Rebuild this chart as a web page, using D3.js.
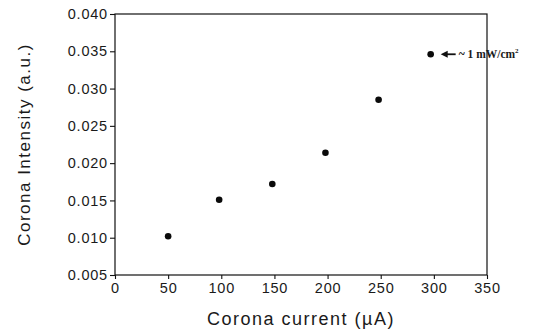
<!DOCTYPE html>
<html>
<head>
<meta charset="utf-8">
<script src="https://cdn.jsdelivr.net/npm/d3@7"></script>
<style>
  body { margin: 0; background: #fff; }
  svg text { font-family: "Liberation Sans", Arial, sans-serif; fill: #1a1a1a; }
</style>
</head>
<body>
<div id="chart-area"></div>
<script>
let width = 542;
let height = 332;

// data
let currents = [50, 98, 148, 198, 248, 297];
let intensities = [0.0102, 0.0151, 0.0172, 0.0214, 0.0285, 0.0346];
let xTicks = [0, 50, 100, 150, 200, 250, 300, 350];
let yTicks = [0.005, 0.010, 0.015, 0.020, 0.025, 0.030, 0.035, 0.040];

let margin = { left: 115, right: 55, top: 14, bottom: 57 };

let svg = d3.select("#chart-area")
	.append("svg")
	.attr("width", width)
	.attr("height", height);

let x = d3.scaleLinear()
	.domain([0, 350])
	.range([margin.left, width - margin.right]);

let y = d3.scaleLinear()
	.domain([0.005, 0.040])
	.range([height - margin.bottom, margin.top]);

// frame
svg.append("rect")
	.attr("x", x(0))
	.attr("y", y(0.040))
	.attr("width", x(350) - x(0))
	.attr("height", y(0.005) - y(0.040))
	.attr("fill", "none")
	.attr("stroke", "#111")
	.attr("stroke-width", 1.2);

let xAxis = d3.axisBottom(x)
	.tickValues(xTicks)
	.tickSize(4)
	.tickPadding(4)
	.tickFormat(d3.format("d"));

let yAxis = d3.axisLeft(y)
	.tickValues(yTicks)
	.tickSize(5)
	.tickPadding(2)
	.tickFormat(d3.format(".3f"));

let gx = svg.append("g")
	.attr("transform", `translate(0, ${y(0.005)})`)
	.call(xAxis);

let gy = svg.append("g")
	.attr("transform", `translate(${x(0)}, 0)`)
	.call(yAxis);

[gx, gy].forEach(g => {
	g.select(".domain").remove();
	g.selectAll("line").attr("stroke", "#111").attr("stroke-width", 1.1);
	g.selectAll("text")
		.style("font-size", "14.5px")
		.style("letter-spacing", "0.8px")
		.style("fill", "#1a1a1a");
});

// points
svg.selectAll("circle.pt")
	.data(currents)
	.enter()
	.append("circle")
	.attr("class", "pt")
	.attr("cx", (d, i) => x(d))
	.attr("cy", (d, i) => y(intensities[i]))
	.attr("r", 3.3)
	.attr("fill", "#0a0a0a");

// annotation for the last point
let last = currents.length - 1;
let ax = x(currents[last]) + 10;
let ay = y(intensities[last]);
svg.append("line")
	.attr("x1", ax + 15).attr("y1", ay)
	.attr("x2", ax + 4).attr("y2", ay)
	.attr("stroke", "#111")
	.attr("stroke-width", 1.8);
svg.append("path")
	.attr("d", `M${ax},${ay} L${ax + 7},${ay - 3.5} L${ax + 7},${ay + 3.5} Z`)
	.attr("fill", "#111");
let note = svg.append("text")
	.attr("x", ax + 18)
	.attr("y", ay + 4)
	.style("font-family", "'Liberation Serif', 'DejaVu Serif', serif")
	.style("font-size", "11.5px")
	.style("font-weight", "bold")
	.text("~ 1 mW/cm");
note.append("tspan")
	.attr("dy", -5)
	.style("font-size", "7px")
	.text("2");

// axis labels
svg.append("text")
	.attr("x", (x(0) + x(350)) / 2)
	.attr("y", 325)
	.attr("text-anchor", "middle")
	.style("font-size", "18px")
	.style("letter-spacing", "1.5px")
	.text("Corona current (\u00b5A)");

svg.append("text")
	.attr("transform", `translate(30, ${(y(0.005) + y(0.040)) / 2}) rotate(-90)`)
	.attr("text-anchor", "middle")
	.style("font-size", "17px")
	.style("letter-spacing", "1.5px")
	.text("Corona Intensity (a.u.)");
</script>
</body>
</html>
